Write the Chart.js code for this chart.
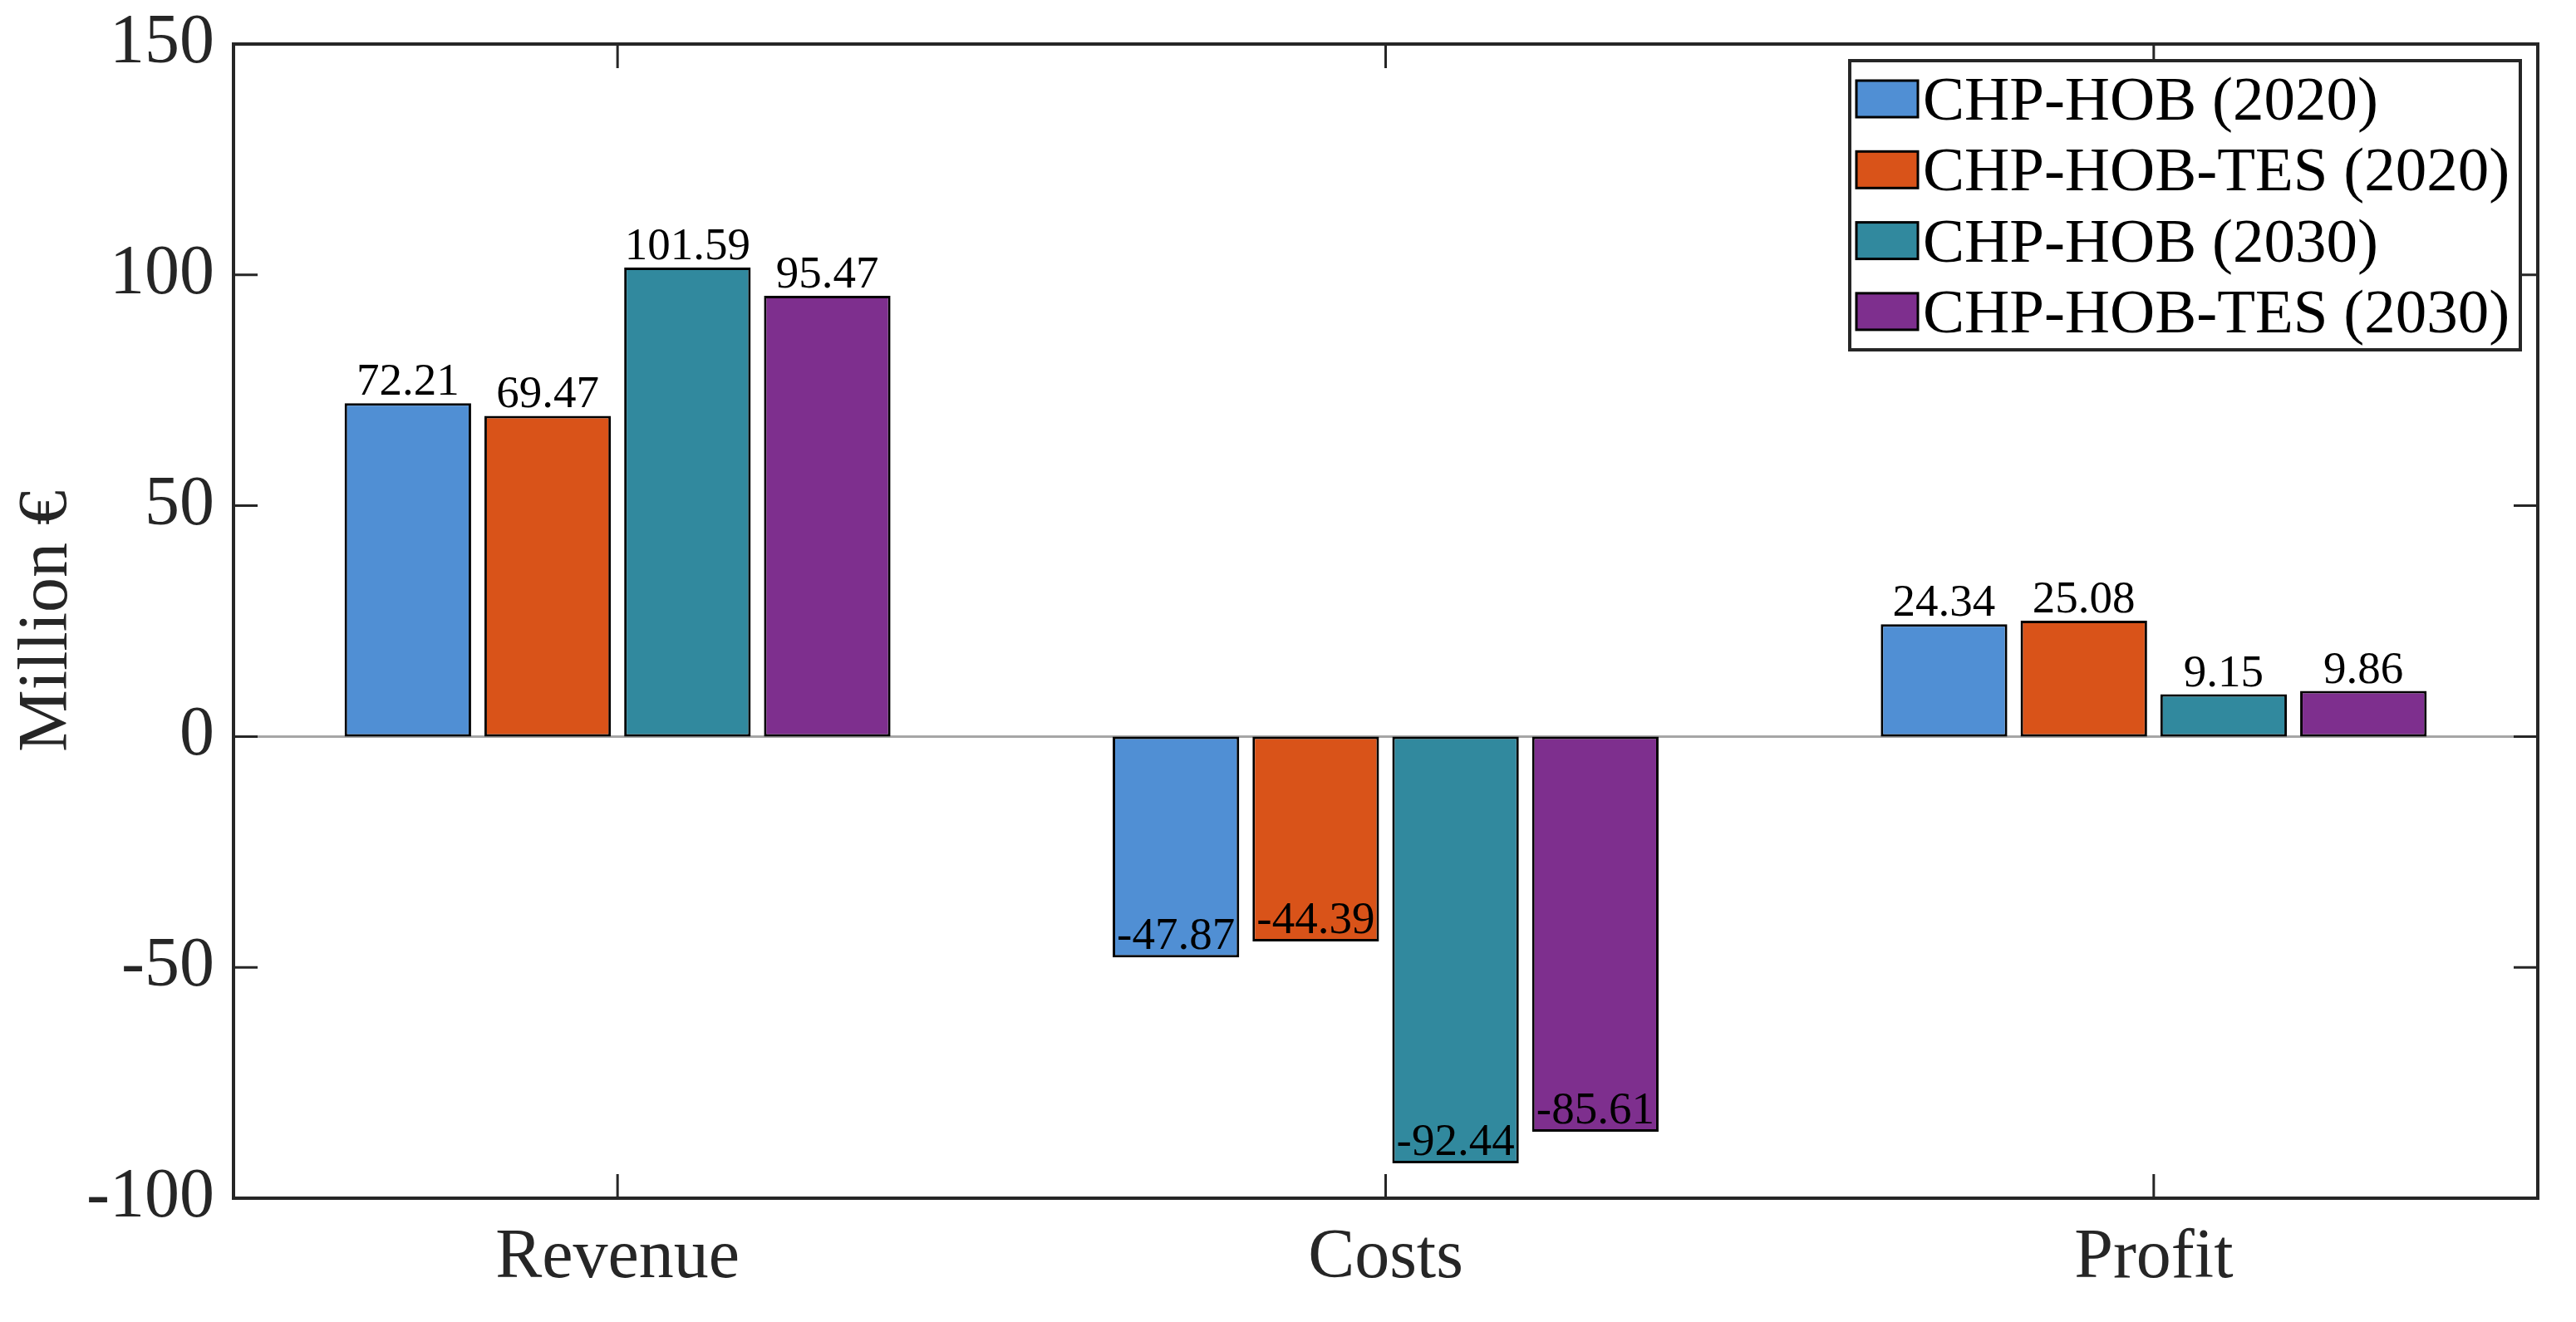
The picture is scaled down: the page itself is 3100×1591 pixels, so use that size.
<!DOCTYPE html>
<html>
<head>
<meta charset="utf-8">
<script src="https://cdn.jsdelivr.net/npm/chart.js@4"></script>
<style>
  html, body { margin: 0; padding: 0; background: #fff; }
  #wrap { width: 3100px; height: 1591px; }
</style>
</head>
<body>
<div id="wrap"><canvas id="chart" width="3100" height="1591"></canvas></div>
<script>
const CATEGORIES = ["Revenue", "Costs", "Profit"];
const SERIES_LABELS = ["CHP-HOB (2020)", "CHP-HOB-TES (2020)", "CHP-HOB (2030)", "CHP-HOB-TES (2030)"];
const HOB_2020 = [72.21, -47.87, 24.34];
const HOB_TES_2020 = [69.47, -44.39, 25.08];
const HOB_2030 = [101.59, -92.44, 9.15];
const HOB_TES_2030 = [95.47, -85.61, 9.86];
const Y_TICKS = [-100, -50, 0, 50, 100, 150];
const COLORS = ["#508FD4", "#D95319", "#31899E", "#7E2F8E"];

const FONT = "'Liberation Serif', 'Times New Roman', serif";
const AXIS_COLOR = "#262626";

// frame, inward ticks, zero line, value labels and legend
const decorPlugin = {
  id: "decor",
  beforeDatasetsDraw(chart) {
    const { ctx, chartArea } = chart;
    const y0 = chart.scales.y.getPixelForValue(0);
    ctx.save();
    ctx.strokeStyle = "#A6A6A6";
    ctx.lineWidth = 3;
    ctx.beginPath();
    ctx.moveTo(chartArea.left, y0);
    ctx.lineTo(chartArea.right, y0);
    ctx.stroke();
    ctx.restore();
  },
  afterDraw(chart) {
    const { ctx, chartArea } = chart;
    const { left, right, top, bottom } = chartArea;
    const xs = chart.scales.x;
    const ys = chart.scales.y;
    const tick = 29;

    ctx.save();
    ctx.strokeStyle = AXIS_COLOR;
    ctx.lineWidth = 4;
    ctx.strokeRect(left, top, right - left, bottom - top);
    ctx.lineWidth = 3;
    ctx.beginPath();
    Y_TICKS.forEach((v) => {
      const py = ys.getPixelForValue(v);
      ctx.moveTo(left, py); ctx.lineTo(left + tick, py);
      ctx.moveTo(right, py); ctx.lineTo(right - tick, py);
    });
    CATEGORIES.forEach((c, i) => {
      const px = xs.getPixelForValue(i);
      ctx.moveTo(px, bottom); ctx.lineTo(px, bottom - tick);
      ctx.moveTo(px, top); ctx.lineTo(px, top + tick);
    });
    ctx.stroke();

    // value labels
    ctx.fillStyle = "#000";
    ctx.font = "55px " + FONT;
    ctx.textAlign = "center";
    ctx.textBaseline = "alphabetic";
    chart.data.datasets.forEach((ds, di) => {
      chart.getDatasetMeta(di).data.forEach((bar, i) => {
        ctx.fillText(ds.data[i].toFixed(2), bar.x, bar.y - 10);
      });
    });

    // legend
    const lx = right - 828, lw = 807, ly = top + 20, lh = 348;
    ctx.fillStyle = "#fff";
    ctx.fillRect(lx, ly, lw, lh);
    ctx.lineWidth = 4;
    ctx.strokeStyle = AXIS_COLOR;
    ctx.strokeRect(lx, ly, lw, lh);
    ctx.font = "75px " + FONT;
    ctx.textAlign = "left";
    chart.data.datasets.forEach((ds, di) => {
      const cy = ly + 46 + di * 85.3;
      ctx.fillStyle = ds.backgroundColor;
      ctx.fillRect(lx + 8, cy - 22, 74, 44);
      ctx.lineWidth = 3;
      ctx.strokeStyle = "#000";
      ctx.strokeRect(lx + 8, cy - 22, 74, 44);
      ctx.fillStyle = "#000";
      ctx.fillText(ds.label, lx + 88, cy + 25);
    });
    ctx.restore();
  },
};

const seriesData = [HOB_2020, HOB_TES_2020, HOB_2030, HOB_TES_2030];

new Chart(document.getElementById("chart"), {
  type: "bar",
  data: {
    labels: CATEGORIES,
    datasets: seriesData.map((d, i) => ({
      label: SERIES_LABELS[i],
      data: d,
      backgroundColor: COLORS[i],
      borderColor: "#000",
      borderWidth: 3,
      borderSkipped: false,
      categoryPercentage: 0.728,
      barPercentage: 0.905,
    })),
  },
  options: {
    responsive: false,
    devicePixelRatio: 1,
    animation: false,
    layout: { padding: { top: 53, right: 46, left: 0, bottom: 0 } },
    plugins: {
      legend: { display: false },
      tooltip: { enabled: false },
    },
    scales: {
      x: {
        offset: true,
        grid: { display: false, drawTicks: false },
        border: { display: false },
        ticks: { color: AXIS_COLOR, padding: 23, font: { family: FONT, size: 84 } },
        afterFit: (s) => { s.height = 149; s.paddingLeft = 0; s.paddingRight = 0; },
      },
      y: {
        min: -100,
        max: 150,
        grid: { display: false, drawTicks: false },
        border: { display: false },
        ticks: {
          stepSize: 50,
          color: AXIS_COLOR,
          padding: 23,
          font: { family: FONT, size: 84 },
        },
        title: {
          display: true,
          text: "Million €",
          color: AXIS_COLOR,
          padding: { top: 8, bottom: 0 },
          font: { family: FONT, size: 84 },
        },
        afterFit: (s) => { s.width = 281; s.paddingTop = 0; s.paddingBottom = 0; },
      },
    },
  },
  plugins: [decorPlugin],
});
</script>
</body>
</html>
